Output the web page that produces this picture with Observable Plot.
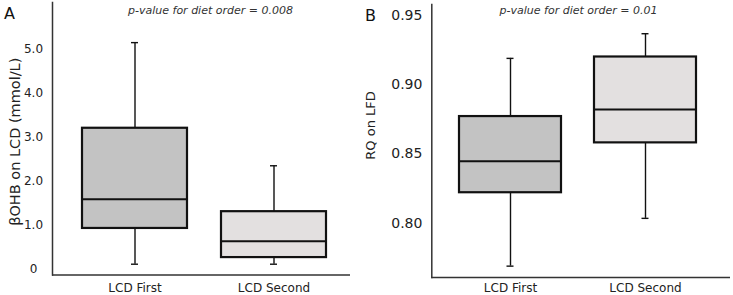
<!DOCTYPE html>
<html><head><meta charset="utf-8">
<script src="https://cdn.jsdelivr.net/npm/d3@7"></script>
<script src="https://cdn.jsdelivr.net/npm/@observablehq/plot@0.6"></script>
<style>
body{margin:0;background:#fff;}
#wrap{display:flex;width:733px;height:295px;overflow:hidden;}
#wrap svg{overflow:visible;}
</style></head><body><div id="wrap"></div>
<script>
// Categories
const groups = ["LCD First", "LCD Second"];
const fills = ["#c3c3c3", "#e3e0e0"];

// Panel A: βOHB on LCD (mmol/L)
const bohbMin = [0.12, 0.12];
const bohbQ1 = [0.93, 0.27];
const bohbMedian = [1.59, 0.64];
const bohbQ3 = [3.20, 1.31];
const bohbMax = [5.14, 2.35];
const bohbTicks = [0, 1, 2, 3, 4, 5];

// Panel B: RQ on LFD
const rqMin = [0.769, 0.8035];
const rqQ1 = [0.822, 0.858];
const rqMedian = [0.8447, 0.8821];
const rqQ3 = [0.877, 0.920];
const rqMax = [0.919, 0.9368];
const rqTicks = [0.80, 0.85, 0.90, 0.95];

const font = "DejaVu Sans, Verdana, sans-serif";

function rows(mn, q1, md, q3, mx) {
  return groups.map((g, i) => ({group: g, lo: mn[i], q1: q1[i], med: md[i], q3: q3[i], hi: mx[i]}));
}

function panel(o) {
  const data = rows(...o.stats);
  return Plot.plot({
    width: o.width, height: 295,
    marginLeft: o.marginLeft, marginRight: o.marginRight,
    marginTop: o.marginTop, marginBottom: o.marginBottom,
    style: {fontFamily: font, color: "#222", background: "transparent", overflow: "visible"},
    x: {type: "band", domain: groups, paddingInner: o.pi, paddingOuter: o.po, align: o.align, label: null},
    y: {domain: o.yDomain, label: null},
    color: {domain: groups, range: fills},
    marks: [
      Plot.ruleX(data, {x: "group", y1: "lo", y2: "hi", stroke: "#111", strokeWidth: 1.4}),
      Plot.tickY(data, {x: "group", y: "lo", stroke: "#111", strokeWidth: 1.4, insetLeft: o.capInset, insetRight: o.capInset}),
      Plot.tickY(data, {x: "group", y: "hi", stroke: "#111", strokeWidth: 1.4, insetLeft: o.capInset, insetRight: o.capInset}),
      Plot.barY(data, {x: "group", y1: "q1", y2: "q3", fill: "group", stroke: "#111", strokeWidth: 2.2}),
      Plot.tickY(data, {x: "group", y: "med", stroke: "#111", strokeWidth: 2}),
      Plot.frame({anchor: "left", stroke: "#333", strokeWidth: 1.5}),
      Plot.ruleY([o.yDomain[0]], {stroke: "#333", strokeWidth: 1.5}),
      Plot.axisY(o.yTicks, {tickSize: 0, tickPadding: o.yTickPad, textAnchor: "middle", fontSize: o.yFont,
        tickFormat: o.tickFormat, label: null, fill: "#222"}),
      Plot.axisX({tickSize: 0, tickPadding: o.xTickPad, fontSize: 12, label: null, fill: "#222"}),
      Plot.text([o.yTitle], {text: d => d, frameAnchor: "left", dx: o.titleDx, dy: o.titleDy, rotate: -90,
        textAnchor: "middle", lineAnchor: "middle", fontSize: o.titleFont, fill: "#222"}),
      Plot.text([o.pText], {text: d => d, frameAnchor: "top", dx: o.pDx, dy: o.pDy, fontSize: 11,
        textAnchor: "middle", fontStyle: "italic", fill: "#333", lineAnchor: "middle"}),
      Plot.text([o.letter], {text: d => d, frameAnchor: "top-left", dx: o.letterDx, dy: o.letterDy, fontSize: 16,
        textAnchor: "middle", lineAnchor: "middle", fill: "#111"})
    ]
  });
}

const wrap = document.getElementById("wrap");
wrap.append(panel({
  width: 355, marginLeft: 52, marginRight: 5, marginTop: 2, marginBottom: 20.5,
  stats: [bohbMin, bohbQ1, bohbMedian, bohbQ3, bohbMax],
  yDomain: [-0.1246, 6.049], yTicks: bohbTicks, yFont: 12, yTickPad: 19,
  tickFormat: d => d === 0 ? "0" : d.toFixed(1),
  pi: 0.242, po: 0.19, align: 0.56, capInset: 49, xTickPad: 8,
  yTitle: "βOHB on LCD (mmol/L)", titleFont: 14.5, titleDx: -37, titleDy: 3,
  pText: "p-value for diet order = 0.008", pDx: 9, pDy: 8,
  letter: "A", letterDx: -43, letterDy: 11
}));
wrap.append(panel({
  width: 378, marginLeft: 76.3, marginRight: 3, marginTop: 4, marginBottom: 18,
  stats: [rqMin, rqQ1, rqMedian, rqQ3, rqMax],
  yDomain: [0.7608, 0.9579], yTicks: rqTicks, yFont: 14, yTickPad: 25,
  tickFormat: d => d.toFixed(2),
  pi: 0.2459, po: 0.2223, align: 0.449, capInset: 47.5, xTickPad: 6,
  yTitle: "RQ on LFD", titleFont: 13, titleDx: -61, titleDy: -15.5,
  pText: "p-value for diet order = 0.01", pDx: -2.6, pDy: 6,
  letter: "B", letterDx: -61.3, letterDy: 11
}));
</script></body></html>
